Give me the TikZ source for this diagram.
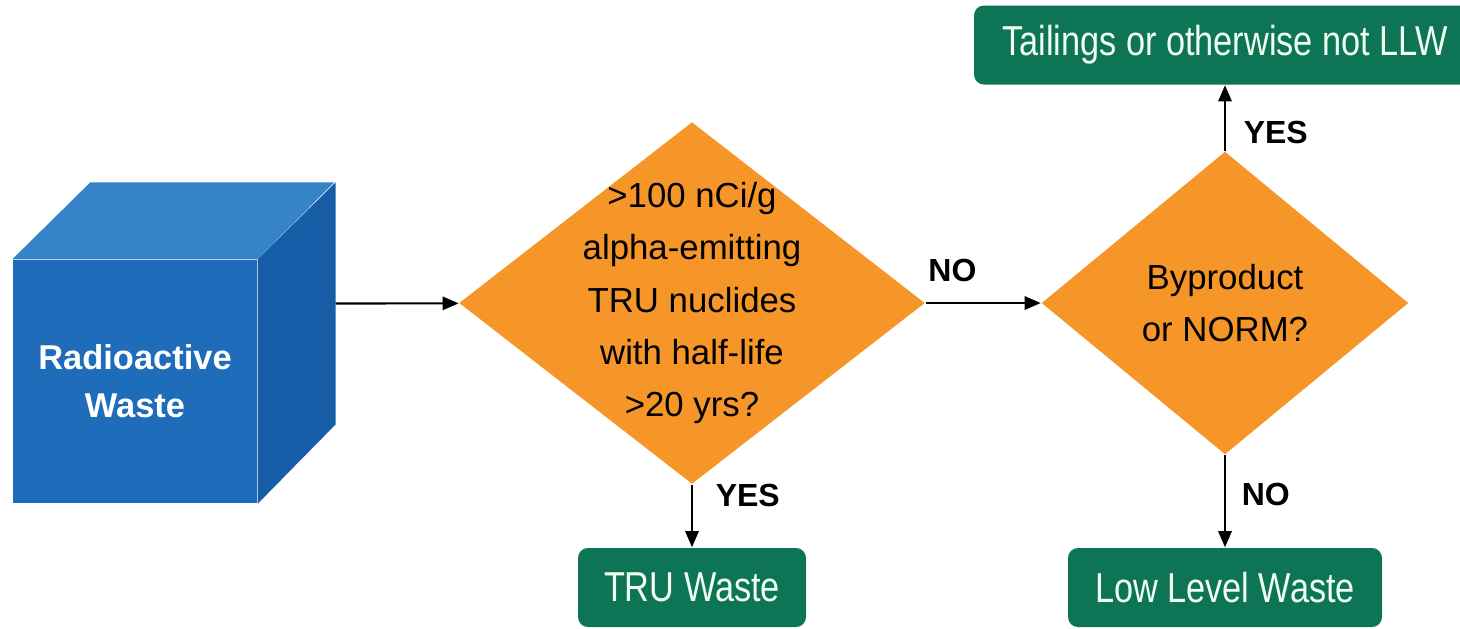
\documentclass[tikz,border=0pt]{standalone}
\usepackage{fontspec}
\setmainfont{Liberation Sans}
\newfontfamily\narrowsf[FakeStretch=0.82]{Liberation Sans}
\usetikzlibrary{shapes.geometric,arrows.meta,calc}
\definecolor{wastegreen}{RGB}{14,116,86}
\definecolor{testorange}{RGB}{246,150,40}
\definecolor{cubefront}{RGB}{30,108,186}
\definecolor{cubetop}{RGB}{54,132,200}
\definecolor{cubeside}{RGB}{22,92,166}

\begin{document}
\begin{tikzpicture}[
  outcome/.style={fill=wastegreen, rounded corners=0.1cm, text=white!94!green, font=\narrowsf\fontsize{11.9}{14}\selectfont, minimum height=0.79cm, inner sep=0},
  test/.style={diamond, fill=testorange, inner sep=0},
  testtext/.style={align=center, font=\fontsize{9.9}{14.8}\selectfont},
  answer/.style={font=\bfseries\fontsize{9.1}{11}\selectfont},
  flow/.style={-{Triangle[length=4.6pt,width=3.8pt]}, line width=0.6pt}]
\useasboundingbox (0,0) rectangle (14.6,-6.28);
% the cube
       \node [fill=cubefront, minimum width=2.44cm, minimum height=2.43cm, inner sep=0, text=white, align=center, font=\bfseries\fontsize{9.8}{13.6}\selectfont] at (1.35,-3.815) (waste) {Radioactive\\Waste};
       \fill [cubetop] (waste.north west) -- ++(0.78,0.77) -- ++(2.44,0) -- (waste.north east) -- cycle;
       \fill [cubeside] (waste.north east) -- ++(0.78,0.77) -- ++(0,-2.42) -- (waste.south east) -- cycle;
       \coordinate (cube side) at ($(waste.east)+(0.78,0.78)$);
%
          \node [test, minimum width=4.66cm, minimum height=3.62cm] at (6.92,-3.03) (tru test) {};
          \node [testtext] at (tru test.center) (tru text) {>100 nCi/g\\alpha-emitting\\TRU nuclides\\with half-life\\>20 yrs?};
             \node [test, minimum width=3.67cm, minimum height=3.03cm] at (12.25,-3.03) (norm test) {};
             \node [testtext] at (norm test.center) (norm text) {Byproduct\\or NORM?};
%
                \node [outcome, minimum width=2.28cm] at (6.92,-5.875) (tru) {TRU Waste};
                \node [outcome, minimum width=3.14cm] at (12.25,-5.875) (llw) {Low Level Waste};
                \node [outcome, minimum width=5.02cm] at (12.25,-0.45) (not llw) {Tailings or otherwise not LLW};
%
\path[flow] (cube side) edge (tru test);
\path[flow] (tru test) edge node [answer, above right, pos=0, xshift=-1mm, yshift=0.8mm] {NO} (norm test);
\path[flow] (tru test) edge node [answer, right, pos=0.17, xshift=1.1mm] {YES} (tru);
\path[flow] (norm test) edge node [answer, right, pos=0.28, xshift=0.6mm] {YES} (not llw);
\path[flow] (norm test) edge node [answer, right, pos=0.43, xshift=0.4mm] {NO} (llw);

\end{tikzpicture}
\end{document}
